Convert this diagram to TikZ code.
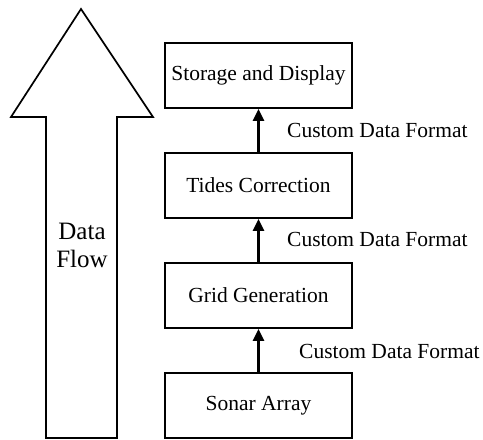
\documentclass[tikz,border=0pt]{standalone}
\usepackage{fontspec}
\setmainfont{Liberation Serif}
\usetikzlibrary{arrows.meta}
\begin{document}
\begin{tikzpicture}[x=1pt,y=-1pt,
  stage/.style={draw, line width=1.7pt, minimum width=187pt, minimum height=65pt,
    inner sep=0pt, font=\fontsize{21.5}{24}\selectfont},
  flow/.style={line width=2.4pt, -{Triangle[length=12pt,width=11pt]}},
  fmtlabel/.style={anchor=west, inner sep=0pt, font=\fontsize{21.5}{24}\selectfont}]
  \useasboundingbox (0,0) rectangle (483,440);

  % large hollow arrow on the left
  \draw[line width=1.7pt, line join=miter]
    (81,9) -- (153,117) -- (117,117) -- (117,438) -- (46,438) -- (46,117) -- (11,117) -- cycle;
  \node[align=center, font=\fontsize{25}{28}\selectfont] (flowtext) at (82,245) {Data\\Flow};

  % processing stages, bottom to top
  \node[stage] (store) at (258.5,75.5)  {Storage and Display};
  \node[stage] (tides) at (258.5,185.5) {Tides Correction};
  \node[stage] (grid)  at (258.5,295.5) {Grid Generation};
  \node[stage] (sonar) at (258.5,405.5) {Sonar Array};

  % data hand-offs between stages
  \draw[flow] (sonar.north) -- (grid.south);
  \draw[flow] (grid.north) -- (tides.south);
  \draw[flow] (tides.north) -- (store.south);

  \node[fmtlabel] (fmt3) at (287,130) {Custom Data Format};
  \node[fmtlabel] (fmt2) at (287,239) {Custom Data Format};
  \node[fmtlabel] (fmt1) at (299,351) {Custom Data Format};
\end{tikzpicture}
\end{document}
